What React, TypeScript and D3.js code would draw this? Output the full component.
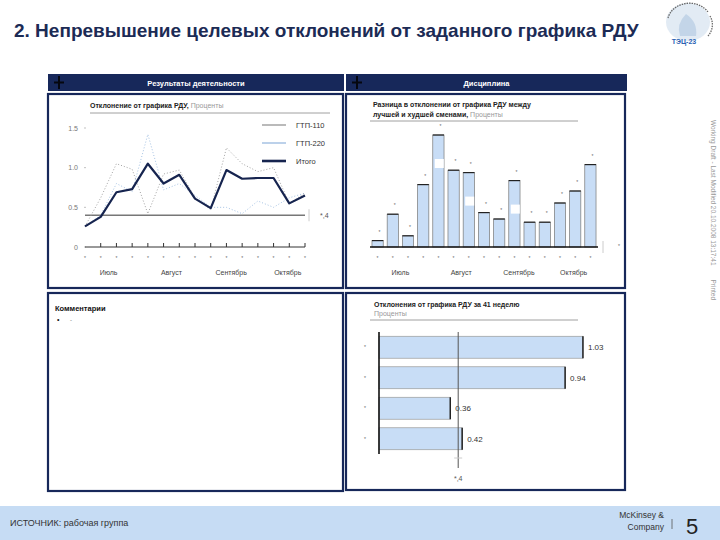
import React from "react";
import * as d3 from "d3";

// weeks 27..41 (July - October)
const weeks = [27, 28, 29, 30, 31, 32, 33, 34, 35, 36, 37, 38, 39, 40, 41];
const monthLabels = ["Июль", "Август", "Сентябрь", "Октябрь"];
const monthCenterWeek = [28.5, 32.5, 36.3, 39.9];

// left chart: deviation from RDU schedule, %
const gtp110 = [0.26, 0.62, 1.05, 0.98, 0.42, 0.92, 0.97, 0.62, 0.47, 1.25, 1.05, 0.95, 1.0, 0.55, 0.68];
const gtp220 = [0.26, 0.4, 0.8, 0.7, 1.42, 0.72, 0.8, 0.65, 0.5, 0.5, 0.42, 0.58, 0.5, 0.62, 0.68];
const total = [0.26, 0.38, 0.69, 0.73, 1.05, 0.8, 0.91, 0.61, 0.49, 0.97, 0.86, 0.87, 0.87, 0.55, 0.65];
const target = 0.4;
const yTicks = [0, 0.5, 1.0, 1.5];
const yTickLabels = ["0", "0.5", "1.0", "1.5"];

// right chart: spread between best and worst shift
const shiftSpread = [0.08, 0.41, 0.14, 0.78, 1.4, 0.96, 0.93, 0.43, 0.35, 0.83, 0.31, 0.31, 0.55, 0.7, 1.03];
const maskedBars = [4, 6, 9];

// bottom chart: week 41 deviations
const week41 = [1.03, 0.94, 0.36, 0.42];
const week41Labels = ["1.03", "0.94", "0.36", "0.42"];

const legend = [
  { name: "ГТП-110", color: "#8c8c8c", w: 1.2 },
  { name: "ГТП-220", color: "#8fb3dc", w: 1.2 },
  { name: "Итого", color: "#16244f", w: 2.6 },
];

const NAVY = "#17285a";
const FONT = "'Liberation Sans', Arial, sans-serif";
const BAR = "#c8ddf6";

export default function App() {
  // left line chart
  const xL = d3.scalePoint<number>().domain(weeks).range([85, 305]);
  const xLc = d3.scaleLinear().domain([27, 41]).range([85, 305]);
  const yL = d3.scaleLinear().domain([0, 1.5]).range([247, 128]);
  const line = d3.line<number>().x((d, i) => xL(weeks[i])!).y(d => yL(d));

  // right bar chart
  const xR = d3.scaleBand<number>().domain(weeks).range([370, 598]).paddingInner(0.26).paddingOuter(0.13);
  const xRc = d3.scaleLinear().domain([27, 41]).range([xR(27)! + xR.bandwidth() / 2, xR(41)! + xR.bandwidth() / 2]);
  const yR = d3.scaleLinear().domain([0, 1.5]).range([247, 127]);

  // bottom horizontal bars
  const xB = d3.scaleLinear().domain([0, 1.1]).range([379, 379 + 1.1 * 198]);
  const yB = d3.scaleBand<number>().domain(d3.range(week41.length)).range([332, 454]).paddingInner(0.28).paddingOuter(0.14);

  return (
    <svg width={720} height={540} style={{ position: "absolute", left: 0, top: 0 }} fontFamily={FONT}>
      <rect width={720} height={540} fill="#fff" />

      {/* title */}
      <text x={14} y={37} fontSize={19} fontWeight="bold" fill="#1c2b55">
        2. Непревышение целевых отклонений от заданного графика РДУ
      </text>

      {/* logo */}
      <g>
        <ellipse cx={688} cy={22} rx={22} ry={19} fill="#e2ebf4" />
        <path d="M668,18 A22,19 0 0 1 708,12" fill="none" stroke="#666" strokeWidth={1.3} strokeDasharray="1.5,1" />
        <path d="M710,16 A22,19 0 0 1 708,36" fill="none" stroke="#666" strokeWidth={1.3} strokeDasharray="1.5,1" />
        <path d="M680,36 Q676,24 686,14 Q698,22 696,36 Z" fill="#c3d5e8" />
        <text x={684} y={44} fontSize={7} fontWeight="bold" fill="#2a62b3" textAnchor="middle">ТЭЦ-23</text>
      </g>

      {/* section headers */}
      {[
        { x: 48, w: 296, t: "Результаты деятельности" },
        { x: 346, w: 281, t: "Дисциплина" },
      ].map(h => (
        <g key={h.t}>
          <rect x={h.x} y={74} width={h.w} height={17} fill={NAVY} />
          <path d={`M${h.x + 6},${82.5}h10M${h.x + 11},${76}v13`} stroke="#05070f" strokeWidth={2} />
          <text x={h.x + h.w / 2} y={85.5} fontSize={7.5} fontWeight="bold" fill="#fff" textAnchor="middle">{h.t}</text>
        </g>
      ))}

      {/* panels */}
      <rect x={48} y={94} width={295} height={194} fill="none" stroke={NAVY} strokeWidth={2.2} />
      <rect x={346} y={94} width={279} height={194} fill="none" stroke={NAVY} strokeWidth={2.2} />
      <rect x={48} y={293} width={295} height={198} fill="none" stroke={NAVY} strokeWidth={2.2} />
      <rect x={346} y={293} width={279} height={197} fill="none" stroke={NAVY} strokeWidth={2.2} />

      {/* left chart */}
      <text x={90} y={108} fontSize={7} fill="#222">
        <tspan fontWeight="bold">Отклонение от графика РДУ, </tspan>
        <tspan fill="#999">Проценты</tspan>
      </text>
      <line x1={90} x2={330} y1={113} y2={113} stroke="#888" strokeWidth={0.8} />
      {yTicks.map((t, i) => (
        <g key={t}>
          <text x={78} y={yL(t) + 2.5} fontSize={7} fill="#777" textAnchor="end">{yTickLabels[i]}</text>
          <line x1={84} x2={86} y1={yL(t)} y2={yL(t)} stroke="#999" strokeWidth={0.6} />
        </g>
      ))}
      <line x1={85} x2={305} y1={yL(0)} y2={yL(0)} stroke="#333" strokeWidth={1} />
      {weeks.map((w, i) => (
        <g key={w}>
          {i > 0 && <line x1={xL(w)} x2={xL(w)} y1={yL(0)} y2={yL(0) - 4} stroke="#333" strokeWidth={1} />}
          <text x={xL(w)} y={260} fontSize={5} fill="#666" textAnchor="middle">*</text>
        </g>
      ))}
      {monthLabels.map((m, i) => (
        <text key={m} x={xLc(monthCenterWeek[i])} y={275} fontSize={7} fill="#444" textAnchor="middle">{m}</text>
      ))}
      <line x1={85} x2={305} y1={yL(target)} y2={yL(target)} stroke="#777" strokeWidth={1.4} />
      <line x1={309} x2={309} y1={yL(target) - 6} y2={yL(target) + 6} stroke="#ccc" strokeWidth={1} />
      <text x={320} y={yL(target) + 3} fontSize={7} fill="#555">*,4</text>
      <path d={line(gtp220)!} fill="none" stroke="#9bbbe0" strokeWidth={0.9} strokeDasharray="1,2" />
      <path d={line(gtp110)!} fill="none" stroke="#999" strokeWidth={0.9} strokeDasharray="1,2" />
      <path d={line(total)!} fill="none" stroke="#16244f" strokeWidth={2.2} strokeLinejoin="round" />
      {legend.map((l, i) => (
        <g key={l.name}>
          <line x1={262} x2={286} y1={125 + i * 18} y2={125 + i * 18} stroke={l.color} strokeWidth={l.w} />
          <text x={296} y={128 + i * 18} fontSize={7.5} fill="#333">{l.name}</text>
        </g>
      ))}

      {/* right chart */}
      <text x={373} y={107} fontSize={7} fontWeight="bold" fill="#222">Разница в отклонении от графика РДУ между</text>
      <text x={373} y={117} fontSize={7} fill="#222">
        <tspan fontWeight="bold">лучшей и худшей сменами, </tspan>
        <tspan fill="#999">Проценты</tspan>
      </text>
      <line x1={370} x2={578} y1={121} y2={121} stroke="#888" strokeWidth={0.8} />
      {shiftSpread.map((v, i) => (
        <g key={weeks[i]}>
          <rect x={xR(weeks[i])} y={yR(v)} width={xR.bandwidth()} height={yR(0) - yR(v)} fill={BAR} stroke="#777" strokeWidth={0.7} />
          <line x1={xR(weeks[i])} x2={xR(weeks[i])! + xR.bandwidth()} y1={yR(v)} y2={yR(v)} stroke="#222" strokeWidth={1.2} />
          <text x={xR(weeks[i])! + xR.bandwidth() / 2 + 2} y={yR(v) - 7} fontSize={5} fill="#666" textAnchor="middle">*</text>
          <text x={xR(weeks[i])! + xR.bandwidth() / 2} y={260} fontSize={5} fill="#666" textAnchor="middle">*</text>
        </g>
      ))}
      {maskedBars.map(i => (
        <rect key={i} x={xR(weeks[i])! + 2} y={yR(shiftSpread[i]) + 24} width={9} height={9} fill="#fff" />
      ))}
      <line x1={370} x2={598} y1={yR(0)} y2={yR(0)} stroke="#111" strokeWidth={1.6} />
      <line x1={603} x2={603} y1={yR(0) - 6} y2={yR(0) + 6} stroke="#ccc" strokeWidth={1} />
      <text x={619} y={248} fontSize={5} fill="#666" textAnchor="middle">*</text>
      {monthLabels.map((m, i) => (
        <text key={m} x={xRc(monthCenterWeek[i])} y={275} fontSize={7} fill="#444" textAnchor="middle">{m}</text>
      ))}

      {/* comments panel */}
      <text x={55} y={311} fontSize={7.5} fontWeight="bold" fill="#111">Комментарии</text>
      <text x={57} y={322} fontSize={7} fill="#111">•</text>
      <text x={70} y={322} fontSize={6} fill="#666">-</text>

      {/* bottom right chart */}
      <text x={374} y={307} fontSize={7} fontWeight="bold" fill="#222">Отклонения от графика РДУ за 41 неделю</text>
      <text x={374} y={316} fontSize={7} fill="#999">Проценты</text>
      <line x1={370} x2={578} y1={320} y2={320} stroke="#888" strokeWidth={0.8} />
      {week41.map((v, i) => (
        <g key={i}>
          <rect x={xB(0)} y={yB(i)} width={xB(v) - xB(0)} height={yB.bandwidth()} fill={BAR} stroke="#999" strokeWidth={0.7} />
          <line x1={xB(v)} x2={xB(v)} y1={yB(i)} y2={yB(i)! + yB.bandwidth()} stroke="#222" strokeWidth={1.5} />
          <text x={xB(v) + 5} y={yB(i)! + yB.bandwidth() / 2 + 3} fontSize={8} fill="#333">{week41Labels[i]}</text>
          <text x={365} y={yB(i)! + yB.bandwidth() / 2 + 2} fontSize={5} fill="#666" textAnchor="middle">*</text>
        </g>
      ))}
      <line x1={xB(0)} x2={xB(0)} y1={332} y2={454} stroke="#111" strokeWidth={1.6} />
      <line x1={xB(target)} x2={xB(target)} y1={332} y2={468} stroke="#555" strokeWidth={1} />
      <line x1={xB(target) - 4} x2={xB(target) + 4} y1={458} y2={458} stroke="#ccc" strokeWidth={1} />
      <text x={xB(target)} y={481} fontSize={7} fill="#555" textAnchor="middle">*,4</text>

      {/* side note */}
      <text transform="translate(711,120) rotate(90)" fontSize={6.5} fill="#999">
        Working Draft - Last Modified 20.10.2008 13:17:41
        <tspan dx={14}>Printed</tspan>
      </text>

      {/* footer */}
      <rect x={0} y={506} width={720} height={34} fill="#c6dcf4" />
      <text x={10} y={526} fontSize={9} fill="#333">ИСТОЧНИК: рабочая группа</text>
      <text x={664} y={518} fontSize={8.5} fill="#333" textAnchor="end">McKinsey &amp;</text>
      <text x={664} y={530} fontSize={8.5} fill="#333" textAnchor="end">Company</text>
      <line x1={672} x2={672} y1={519} y2={529} stroke="#555" strokeWidth={0.8} />
      <text x={686} y={534} fontSize={22} fill="#222">5</text>
    </svg>
  );
}
